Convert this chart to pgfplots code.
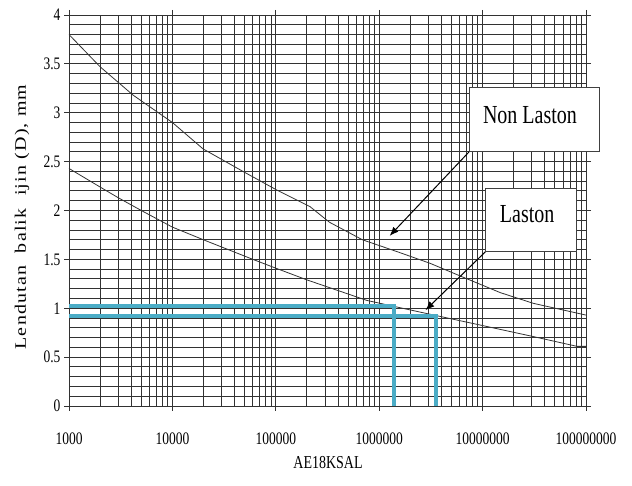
\documentclass[border=0pt]{standalone}
\usepackage{fontspec}
\setmainfont{Liberation Serif}
\usepackage{graphicx}
\usepackage{pgfplots}
\pgfplotsset{compat=1.18}
\usetikzlibrary{arrows.meta}
\definecolor{cyanline}{RGB}{75,172,198}
\definecolor{gridc}{RGB}{50,50,50}
\newcommand{\vs}[1]{\scalebox{1}[1.3]{#1}}
\begin{document}
\begin{tikzpicture}[x=1pt,y=1pt]
\path[use as bounding box] (0,0) rectangle (632,486);
\begin{axis}[
  at={(69pt,80pt)}, anchor=south west,
  width=517pt, height=391pt, scale only axis,
  xmode=log, log basis x=10,
  xmin=1000, xmax=1e8, ymin=0, ymax=4,
  xtick={1e3,1e4,1e5,1e6,1e7,1e8},
  xticklabels={\vs{1000},\vs{10000},\vs{100000},\vs{1000000},\vs{10000000},\vs{100000000}},
  minor xtick={2e3,3e3,4e3,5e3,6e3,7e3,8e3,9e3,2e4,3e4,4e4,5e4,6e4,7e4,8e4,9e4,2e5,3e5,4e5,5e5,6e5,7e5,8e5,9e5,2e6,3e6,4e6,5e6,6e6,7e6,8e6,9e6,2e7,3e7,4e7,5e7,6e7,7e7,8e7,9e7},
  ytick={0,0.5,1,1.5,2,2.5,3,3.5,4},
  yticklabels={\vs{0},\vs{0.5},\vs{1},\vs{1.5},\vs{2},\vs{2.5},\vs{3},\vs{3.5},\vs{4}},
  minor y tick num=4,
  grid=both,
  major grid style={gridc, line width=0.9pt},
  minor grid style={gridc, line width=0.9pt},
  axis line style={gridc, line width=0.9pt},
  tick style={gridc, line width=0.9pt},
  tick align=outside,
  major tick length=5pt, minor tick length=0pt,
  xticklabel style={font=\fontsize{13.5}{14}\selectfont, yshift=-18pt},
  yticklabel style={font=\fontsize{13.5}{14}\selectfont},
  clip=false,
]
% Non Laston
\addplot[black!80, line width=0.8pt] coordinates {
  (1000,3.80) (2000,3.47) (4170,3.18) (10000,2.90) (19800,2.63)
  (50000,2.39) (102000,2.21) (214000,2.04) (330000,1.88) (690000,1.70)
  (1480000,1.58) (3100000,1.46) (6400000,1.32) (14800000,1.16)
  (31000000,1.05) (100000000,0.93)
};
% Laston
\addplot[black!80, line width=0.8pt] coordinates {
  (1000,2.43) (2000,2.24) (3000,2.13) (5000,2.00) (10000,1.83)
  (20000,1.70) (60000,1.50) (100000,1.41) (200000,1.29)
  (760000,1.08) (2500000,0.96) (9300000,0.83) (31000000,0.71)
  (82000000,0.61) (100000000,0.61)
};
% cyan reading lines
\addplot[cyanline, line width=4pt] coordinates {(1000,1.02) (1380000,1.02) (1380000,0)};
\addplot[cyanline, line width=4pt] coordinates {(1000,0.92) (3550000,0.92) (3550000,0)};
% arrows
\draw[-{Latex[length=9pt,width=7pt]}, line width=1pt] (axis cs:7.4e6,2.60) -- (axis cs:1.26e6,1.74);
\draw[-{Latex[length=9pt,width=7pt]}, line width=1pt] (axis cs:1.07e7,1.58) -- (axis cs:2.8e6,0.98);
% boxes
\draw[fill=white, draw=black!75, line width=1pt] (axis cs:7.4e6,2.60) rectangle (axis cs:1.34e8,3.26);
\node at (axis cs:2.87e7,2.98) {\fontsize{20}{20}\selectfont\vs{Non Laston}};
\draw[fill=white, draw=black!75, line width=1pt] (axis cs:1.07e7,1.58) rectangle (axis cs:8.1e7,2.23);
\node at (axis cs:2.7e7,1.96) {\fontsize{20}{20}\selectfont\vs{Laston}};
\end{axis}
\node[rotate=90] at (22,269) {\scalebox{1.25}[1]{\fontsize{16}{16}\selectfont\addfontfeatures{LetterSpace=6}Lendutan~~balik~~ijin (D), mm}};
\node at (328,23) {\fontsize{14}{14}\selectfont\vs{AE18KSAL}};
\end{tikzpicture}
\end{document}
